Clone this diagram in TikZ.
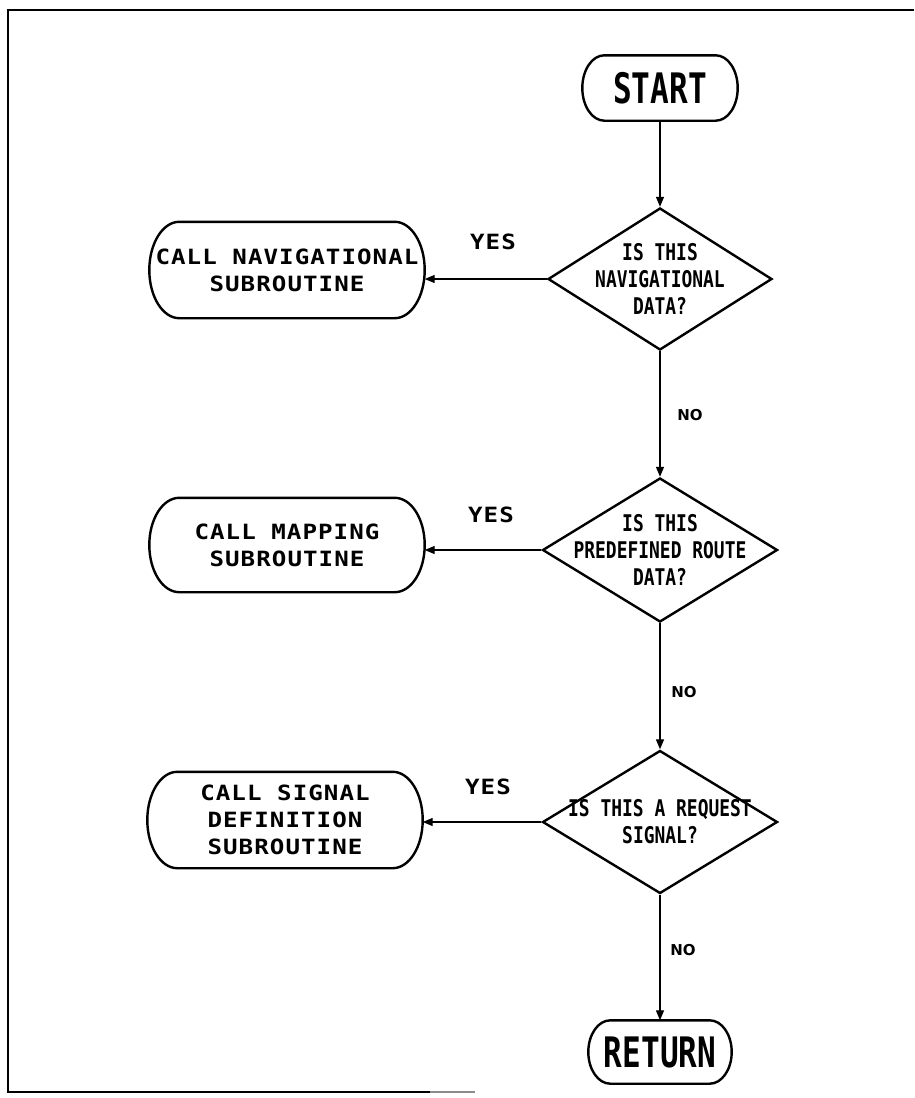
\documentclass[tikz,border=0pt]{standalone}
\usepackage{fontspec}
\usetikzlibrary{shapes.geometric,arrows.meta,calc}
% plotter-style lettering
\newfontfamily\plotwide[FakeStretch=1.15,LetterSpace=5]{DejaVu Sans Mono}
\newfontfamily\plotnarrow[FakeStretch=0.78]{DejaVu Sans Mono}
\newfontfamily\plottall[FakeStretch=0.74]{DejaVu Sans Mono}
\newfontfamily\tagfont{DejaVu Sans}

\tikzset{
  x=1pt, y=1pt,
  frameline/.style={line width=2pt, black},
  outline/.style={line width=2.4pt, black},
  conn/.style={line width=1.3pt, -{Triangle[length=10pt,width=8pt]}},
  term/.style={inner sep=0pt, align=center, font=\plottall\bfseries\fontsize{42}{42}\selectfont},
  subr/.style={inner sep=0pt, align=center, minimum width=275pt, minimum height=96pt,
               font=\plotwide\bfseries\fontsize{21}{27}\selectfont},
  decision/.style={diamond, draw, line width=2.4pt, inner sep=0pt, aspect=1.6},
  qtext/.style={inner sep=0pt, align=center, font=\plotnarrow\bfseries\fontsize{23}{27}\selectfont},
  yestag/.style={inner sep=0pt, font=\plotwide\bfseries\fontsize{21}{21}\selectfont},
  notag/.style={inner sep=0pt, font=\tagfont\bfseries\fontsize{15}{15}\selectfont},
}

\begin{document}
\begin{tikzpicture}
\useasboundingbox (0,0) rectangle (914,-1098);

% page frame (top, left, bottom edges)
\draw[frameline] (914,-10) -- (8,-10) -- (8,-1092) -- (430,-1092);
\draw[line width=2pt, black!45] (430,-1092) -- (475,-1092);

% terminals and subroutine boxes
\node[term, minimum width=155pt, minimum height=65pt] (start) at (660,-88) {START};
\node[term, minimum width=143pt, minimum height=63pt] (ret) at (660,-1052) {RETURN};
\node[subr] (nav) at (287,-270) {CALL NAVIGATIONAL\\SUBROUTINE};
\node[subr, minimum height=94pt] (map) at (287,-545) {CALL MAPPING\\SUBROUTINE};
\node[subr] (sig) at (285,-820) {CALL SIGNAL\\DEFINITION\\SUBROUTINE};

% decisions
\node[decision, minimum width=224pt, minimum height=142pt] (d1) at (660,-279) {};
\node[decision, minimum width=235pt, minimum height=144pt] (d2) at (660,-550) {};
\node[decision, minimum width=235pt, minimum height=143pt] (d3) at (660,-822) {};
\node[qtext] (d1t) at (d1.center) {IS THIS\\NAVIGATIONAL\\DATA?};
\node[qtext] (d2t) at (d2.center) {IS THIS\\PREDEFINED ROUTE\\DATA?};
\node[qtext] (d3t) at (d3.center) {IS THIS A REQUEST\\SIGNAL?};

% rounded outlines with elliptical ends
\foreach \nd/\a in {start/22,ret/22,nav/30,map/30,sig/30}
  \draw[outline] let \p1=(\nd.north west), \p2=(\nd.south east), \n1={(\y1-\y2)/2} in
    (\x1+\a,\y1) -- (\x2-\a,\y1)
    arc[start angle=90, end angle=-90, x radius=\a pt, y radius=\n1]
    -- (\x1+\a,\y2)
    arc[start angle=270, end angle=90, x radius=\a pt, y radius=\n1] -- cycle;

% flow
\draw[conn] (start) -- (d1);
\draw[conn] (d1) -- (d2);
\draw[conn] (d2) -- (d3);
\draw[conn] (d3) -- (ret);
\draw[conn] (d1.west) -- (d1.west -| nav.east);
\draw[conn] (d2.west) -- (d2.west -| map.east);
\draw[conn] (d3.west) -- (d3.west -| sig.east);

% branch tags
\node[yestag] (y1) at (493,-242) {YES};
\node[yestag] (y2) at (491,-515) {YES};
\node[yestag] (y3) at (488,-787) {YES};
\node[notag] (n1) at (690,-415) {NO};
\node[notag] (n2) at (684,-692) {NO};
\node[notag] (n3) at (683,-950) {NO};
\end{tikzpicture}
\end{document}
